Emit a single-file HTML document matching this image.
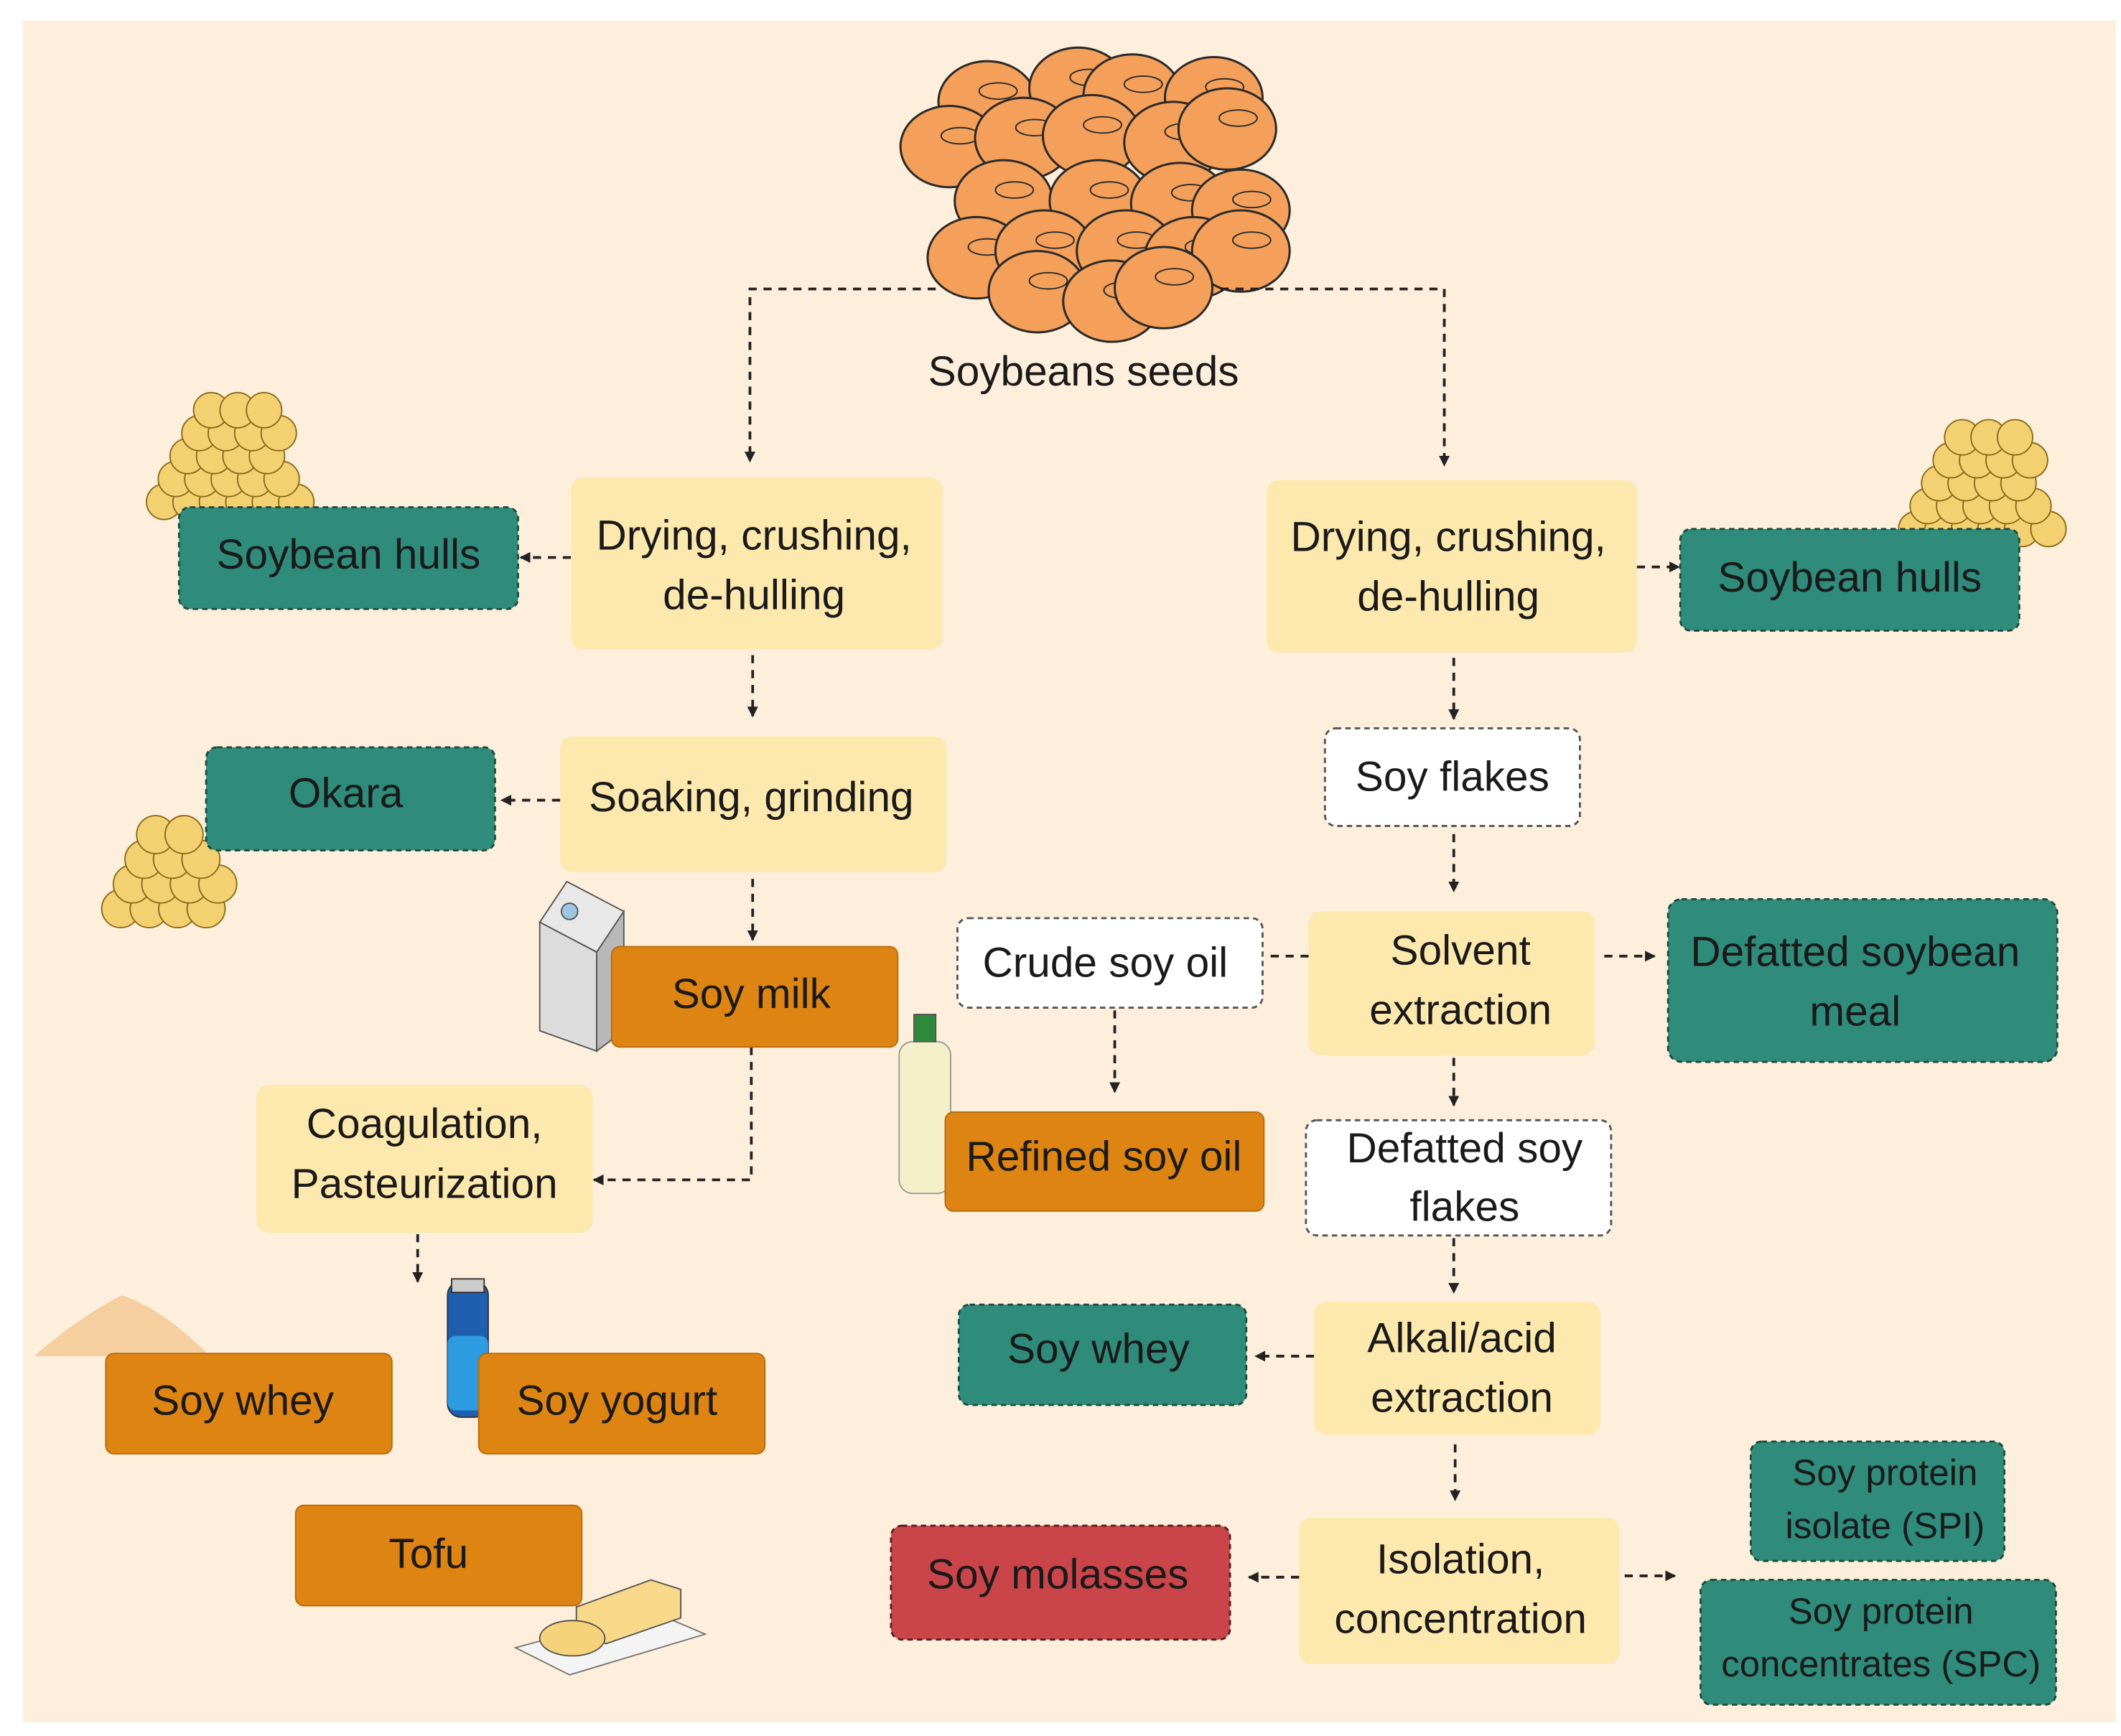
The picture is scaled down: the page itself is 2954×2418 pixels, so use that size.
<!DOCTYPE html>
<html><head><meta charset="utf-8">
<style>
html,body{margin:0;padding:0;background:#fff;}
svg{display:block;}
text{font-family:"Liberation Sans",sans-serif;fill:#1a1a1a;text-anchor:middle;dominant-baseline:middle;}
.t{font-size:31px;}
.s{font-size:27px;}
.y{fill:#fde8ad;}
.tl{fill:#2f8c7b;stroke:#1e4a40;stroke-width:1.5;stroke-dasharray:4 3;}
.or{fill:#de8412;stroke:#b86a0c;stroke-width:1;}
.wh{fill:#fff;stroke:#555;stroke-width:1.5;stroke-dasharray:4 3;}
.rd{fill:#c9454a;stroke:#5a1e20;stroke-width:1.5;stroke-dasharray:4 3;}
.ln{fill:none;stroke:#222;stroke-width:2;stroke-dasharray:6 5;}
.bean{fill:#f4a05a;stroke:#2a2a2a;stroke-width:1.6;}
.hl{fill:none;stroke:#2a2a2a;stroke-width:1;}
</style></head>
<body>
<svg id="sv" width="2954" height="2418" viewBox="0 0 1564 1280" xmlns="http://www.w3.org/2000/svg">
<defs>
<marker id="ar" markerWidth="8" markerHeight="8" refX="7" refY="4" orient="auto" markerUnits="userSpaceOnUse">
<path d="M0,0 L8,4 L0,8 Z" fill="#222"/></marker>
</defs>
<rect x="17" y="15" width="1543" height="1255" fill="#fdefdc"/>

<g id="beans"></g>
<g id="piles"></g>

<text class="t" x="799" y="276">Soybeans seeds</text>

<!-- connectors -->
<path class="ln" d="M690,213 H553 V340" marker-end="url(#ar)"/>
<path class="ln" d="M900,213 H1065 V343" marker-end="url(#ar)"/>
<path class="ln" d="M421,411 H384" marker-end="url(#ar)"/>
<path class="ln" d="M555,483 V528" marker-end="url(#ar)"/>
<path class="ln" d="M413,590 H370" marker-end="url(#ar)"/>
<path class="ln" d="M555,648 V693" marker-end="url(#ar)"/>
<path class="ln" d="M554,772 V870 H438" marker-end="url(#ar)"/>
<path class="ln" d="M308,910 V945" marker-end="url(#ar)"/>
<path class="ln" d="M1207,418 H1238" marker-end="url(#ar)"/>
<path class="ln" d="M1072,485 V530" marker-end="url(#ar)"/>
<path class="ln" d="M1072,615 V657" marker-end="url(#ar)"/>
<path class="ln" d="M1183,705 H1220" marker-end="url(#ar)"/>
<path class="ln" d="M937,705 H965"/>
<path class="ln" d="M822,745 V805" marker-end="url(#ar)"/>
<path class="ln" d="M1072,780 V815" marker-end="url(#ar)"/>
<path class="ln" d="M1072,913 V953" marker-end="url(#ar)"/>
<path class="ln" d="M969,1000 H926" marker-end="url(#ar)"/>
<path class="ln" d="M1073,1065 V1106" marker-end="url(#ar)"/>
<path class="ln" d="M958,1163 H921" marker-end="url(#ar)"/>
<path class="ln" d="M1198,1162 H1235" marker-end="url(#ar)"/>

<!-- left column -->
<rect class="y" x="421" y="352" width="274" height="127" rx="9"/>
<text class="t" x="556" y="397">Drying, crushing,</text>
<text class="t" x="556" y="441">de-hulling</text>
<rect class="tl" x="132" y="374" width="250" height="75" rx="8"/>
<text class="t" x="257" y="411">Soybean hulls</text>
<rect class="y" x="413" y="543" width="285" height="100" rx="9"/>
<text class="t" x="554" y="590">Soaking, grinding</text>
<rect class="tl" x="152" y="551" width="213" height="76" rx="8"/>
<text class="t" x="255" y="587">Okara</text>

<!-- milk carton -->
<polygon points="398,680 418,650 460,672 440,702" fill="#e8e8e8" stroke="#555"/>
<polygon points="398,680 440,702 440,775 398,760" fill="#dcdcdc" stroke="#555"/>
<polygon points="440,702 460,672 460,760 440,775" fill="#b8b8b8" stroke="#555"/>
<circle cx="420" cy="672" r="6" fill="#9ec6e0" stroke="#555"/>

<rect class="or" x="451" y="698" width="211" height="74" rx="6"/>
<text class="t" x="554" y="735">Soy milk</text>
<rect class="y" x="189" y="800" width="248" height="109" rx="9"/>
<text class="t" x="313" y="831">Coagulation,</text>
<text class="t" x="313" y="875">Pasteurization</text>

<!-- powder -->
<path d="M25,1000 Q60,970 90,955 Q120,965 155,1000 Z" fill="#f6cfa0"/>
<rect class="or" x="78" y="998" width="211" height="74" rx="6"/>
<text class="t" x="179" y="1035">Soy whey</text>
<!-- yogurt bottle -->
<rect x="330" y="945" width="30" height="100" rx="10" fill="#1e5fb0" stroke="#333"/>
<rect x="330" y="985" width="30" height="55" rx="6" fill="#2d9be0"/>
<rect x="333" y="943" width="24" height="10" fill="#ccc" stroke="#333"/>
<rect class="or" x="353" y="998" width="211" height="74" rx="6"/>
<text class="t" x="455" y="1035">Soy yogurt</text>
<rect class="or" x="218" y="1110" width="211" height="74" rx="6"/>
<text class="t" x="316" y="1148">Tofu</text>
<!-- butter -->
<polygon points="380,1215 480,1188 520,1205 420,1235" fill="#f4f4f4" stroke="#777"/>
<polygon points="425,1185 480,1165 502,1172 502,1193 447,1212 425,1205" fill="#f8d98a" stroke="#555"/>
<ellipse cx="422" cy="1208" rx="24" ry="13" fill="#f6d27a" stroke="#555"/>

<!-- right column -->
<rect class="y" x="934" y="354" width="273" height="127" rx="9"/>
<text class="t" x="1068" y="398">Drying, crushing,</text>
<text class="t" x="1068" y="442">de-hulling</text>
<rect class="tl" x="1239" y="390" width="250" height="75" rx="8"/>
<text class="t" x="1364" y="428">Soybean hulls</text>
<rect class="wh" x="977" y="537" width="188" height="72" rx="8"/>
<text class="t" x="1071" y="575">Soy flakes</text>
<rect class="y" x="965" y="672" width="211" height="106" rx="9"/>
<text class="t" x="1077" y="703">Solvent</text>
<text class="t" x="1077" y="747">extraction</text>
<rect class="tl" x="1230" y="663" width="287" height="120" rx="10"/>
<text class="t" x="1368" y="704">Defatted soybean</text>
<text class="t" x="1368" y="748">meal</text>
<rect class="wh" x="706" y="677" width="225" height="66" rx="8"/>
<text class="t" x="815" y="712">Crude soy oil</text>
<!-- oil bottle -->
<rect x="663" y="768" width="38" height="112" rx="10" fill="#f3efc8" stroke="#999"/>
<rect x="674" y="748" width="16" height="20" fill="#2e8a3a" stroke="#555"/>
<rect class="or" x="697" y="820" width="235" height="73" rx="6"/>
<text class="t" x="814" y="855">Refined soy oil</text>
<rect class="wh" x="963" y="826" width="225" height="85" rx="8"/>
<text class="t" x="1080" y="849">Defatted soy</text>
<text class="t" x="1080" y="892">flakes</text>
<rect class="y" x="969" y="960" width="211" height="98" rx="9"/>
<text class="t" x="1078" y="989">Alkali/acid</text>
<text class="t" x="1078" y="1033">extraction</text>
<rect class="tl" x="707" y="962" width="212" height="74" rx="8"/>
<text class="t" x="810" y="997">Soy whey</text>
<rect class="y" x="958" y="1119" width="236" height="108" rx="9"/>
<text class="t" x="1077" y="1152">Isolation,</text>
<text class="t" x="1077" y="1196">concentration</text>
<rect class="rd" x="657" y="1125" width="250" height="84" rx="8"/>
<text class="t" x="780" y="1163">Soy molasses</text>
<rect class="tl" x="1291" y="1063" width="187" height="88" rx="8"/>
<text class="s" x="1390" y="1088">Soy protein</text>
<text class="s" x="1390" y="1127">isolate (SPI)</text>
<rect class="tl" x="1254" y="1165" width="262" height="92" rx="8"/>
<text class="s" x="1387" y="1190">Soy protein</text>
<text class="s" x="1387" y="1229">concentrates (SPC)</text>
</svg>
<script>
(function(){
var ns="http://www.w3.org/2000/svg";
var b=document.getElementById("beans");
var pts=[[728,75],[795,65],[835,70],[895,72],[700,108],[755,102],[805,100],[865,105],[905,95],[740,148],[810,148],[870,150],[915,155],[720,190],[770,185],[830,185],[880,190],[915,185],[765,215],[820,222],[858,212]];
pts.forEach(function(p){
 var e=document.createElementNS(ns,"ellipse");e.setAttribute("cx",p[0]);e.setAttribute("cy",p[1]);e.setAttribute("rx",36);e.setAttribute("ry",30);e.setAttribute("class","bean");b.appendChild(e);
 var h=document.createElementNS(ns,"ellipse");h.setAttribute("cx",p[0]+8);h.setAttribute("cy",p[1]-8);h.setAttribute("rx",14);h.setAttribute("ry",6);h.setAttribute("class","hl");b.appendChild(h);
});
var g=document.getElementById("piles");
function pile(x0,y0,x1,y1,r){
 for(var y=y1;y>=y0;y-=r*1.3){
  var f=(y1-y)/(y1-y0), w=(x1-x0)*(1-f*0.6), cx=(x0+x1)/2;
  for(var x=cx-w/2+r;x<=cx+w/2-r;x+=r*1.5){
   var c=document.createElementNS(ns,"circle");c.setAttribute("cx",x);c.setAttribute("cy",y);c.setAttribute("r",r);
   c.setAttribute("fill","#f3d070");c.setAttribute("stroke","#8a6a1a");c.setAttribute("stroke-width","1");g.appendChild(c);
  }
 }
}
pile(108,290,245,370,13);
pile(1400,308,1537,390,13);
pile(75,600,185,670,14);
})();
</script>
</body></html>
